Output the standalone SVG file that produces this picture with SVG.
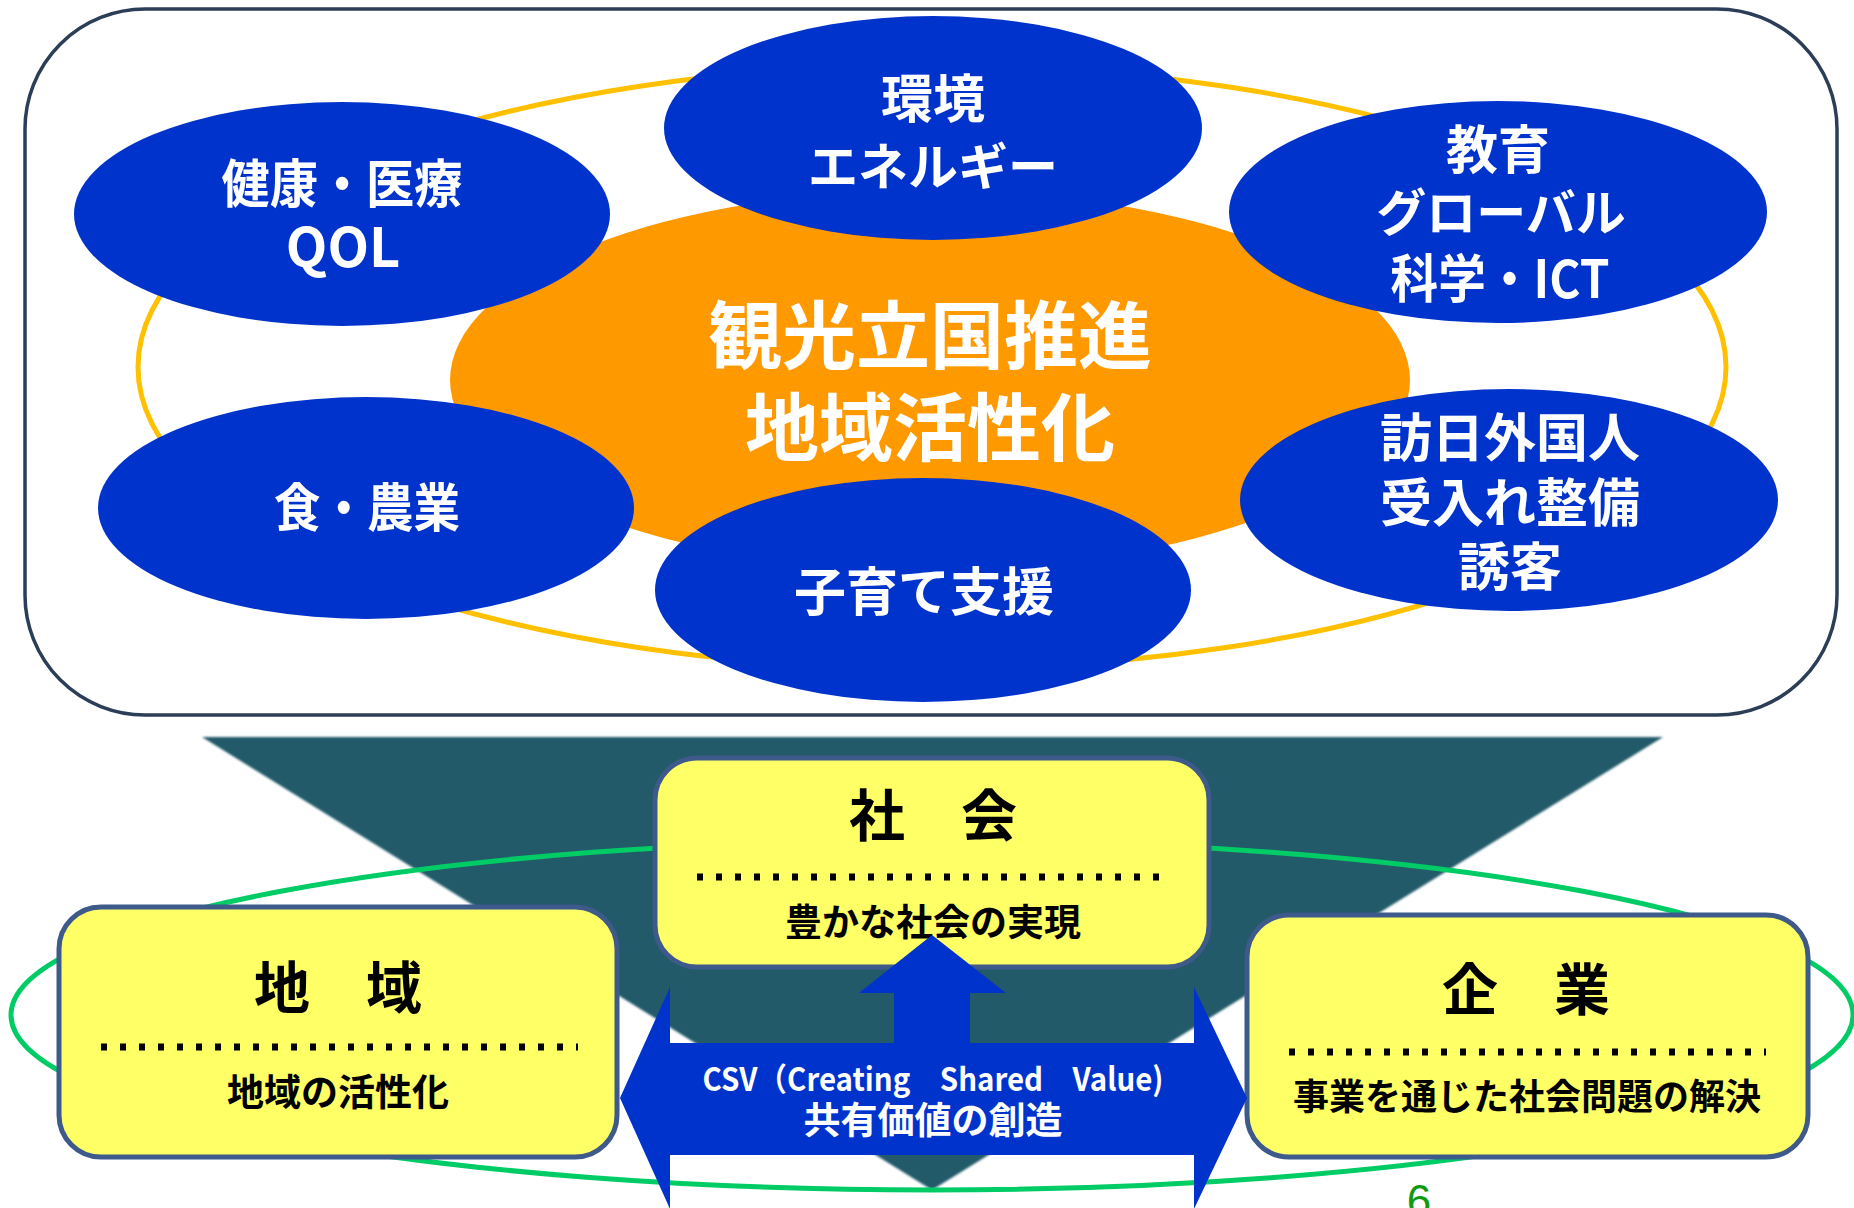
<svg xmlns="http://www.w3.org/2000/svg" width="1854" height="1208" viewBox="0 0 1854 1208">
<defs>
<style>
.frame{fill:#fff;stroke:#2c3e57;stroke-width:3.5}
.blue{fill:#0033CC}
.wt{fill:#fff;font-family:"Noto Sans CJK JP","Noto Sans",sans-serif;font-weight:bold;text-anchor:middle}
.bk{fill:#000;font-family:"Noto Sans CJK JP","Noto Sans",sans-serif;font-weight:bold;text-anchor:middle}
.box{fill:#FFFF66;stroke:#3d5a8a;stroke-width:5}
.dots{stroke:#000;stroke-width:7;stroke-dasharray:6 13;fill:none}
</style>
<filter id="soft" x="-5%" y="-5%" width="110%" height="110%"><feGaussianBlur stdDeviation="1.2"/></filter>
</defs>
<rect class="frame" x="25" y="9" width="1812" height="706" rx="120"/>
<ellipse id="ring-gold" cx="932" cy="367" rx="794" ry="302" fill="none" stroke="#FFC000" stroke-width="5"/>
<g id="center">
<ellipse cx="930" cy="380" rx="480" ry="190" fill="#FF9900"/>
</g>
<g id="n-health"><ellipse class="blue" cx="342" cy="214" rx="268" ry="112"/>
<text class="wt" x="342" y="203" font-size="52" textLength="241" lengthAdjust="spacingAndGlyphs">健康・医療</text>
<text class="wt" x="343" y="267" font-size="54">QOL</text></g>
<g id="n-env"><ellipse class="blue" cx="933" cy="128" rx="269" ry="112"/>
<text class="wt" x="933" y="118" font-size="52">環境</text>
<text class="wt" x="933" y="185" font-size="50">エネルギー</text></g>
<g id="n-edu"><ellipse class="blue" cx="1498" cy="212" rx="269" ry="111"/>
<text class="wt" x="1498" y="169" font-size="52">教育</text>
<text class="wt" x="1501" y="231" font-size="50">グローバル</text>
<text class="wt" x="1500" y="298" font-size="52" textLength="219" lengthAdjust="spacingAndGlyphs">科学・ICT</text></g>
<g id="n-food"><ellipse class="blue" cx="366" cy="508" rx="268" ry="111"/>
<text class="wt" x="367" y="527" font-size="52" textLength="186" lengthAdjust="spacingAndGlyphs">食・農業</text></g>
<g id="n-child"><ellipse class="blue" cx="923" cy="590" rx="268" ry="112"/>
<text class="wt" x="924" y="611" font-size="52">子育て支援</text></g>
<g id="n-visit"><ellipse class="blue" cx="1509" cy="500" rx="269" ry="111"/>
<text class="wt" x="1510" y="457" font-size="52">訪日外国人</text>
<text class="wt" x="1510" y="522" font-size="52">受入れ整備</text>
<text class="wt" x="1510" y="586" font-size="52">誘客</text></g>
<g id="center-label">
<text class="wt" x="930" y="363" font-size="74">観光立国推進</text>
<text class="wt" x="930" y="455" font-size="74">地域活性化</text>
</g>
<path id="funnel" d="M202,737 L1663,737 L932,1190 Z" fill="#245A69" filter="url(#soft)"/>
<ellipse id="ring-green" cx="932" cy="1015" rx="921" ry="175" fill="none" stroke="#00CC66" stroke-width="5"/>
<g id="n-society"><rect class="box" x="655" y="758" width="554" height="209" rx="42"/>
<text class="bk" x="933" y="836" font-size="56">社　会</text>
<line class="dots" x1="697" y1="877" x2="1170" y2="877"/>
<text class="bk" x="933" y="936" font-size="37">豊かな社会の実現</text></g>
<g id="n-region"><rect class="box" x="59" y="907" width="558" height="250" rx="42"/>
<text class="bk" x="338" y="1008" font-size="56">地　域</text>
<line class="dots" x1="101" y1="1047" x2="578" y2="1047"/>
<text class="bk" x="338" y="1106" font-size="37">地域の活性化</text></g>
<g id="n-company"><rect class="box" x="1247" y="915" width="561" height="242" rx="42"/>
<text class="bk" x="1526" y="1010" font-size="56">企　業</text>
<line class="dots" x1="1289" y1="1052" x2="1766" y2="1052"/>
<text class="bk" x="1527" y="1110" font-size="36">事業を通じた社会問題の解決</text></g>
<g id="connectors">
<path class="blue" d="M620,1098 L670,987 L670,1043 L894,1043 L894,993 L859,993 L932,935 L1006,993 L970,993 L970,1043 L1194,1043 L1194,987 L1247,1098 L1194,1209 L1194,1155 L670,1155 L670,1209 Z"/>
<text class="wt" x="933" y="1091" font-size="32" textLength="461" lengthAdjust="spacingAndGlyphs">CSV（Creating　Shared　Value)</text>
<text class="wt" x="933" y="1134" font-size="37">共有価値の創造</text>
</g>
<text x="1419" y="1216" font-size="44" fill="#109a10" font-family="Liberation Sans, sans-serif" text-anchor="middle">6</text>
</svg>
